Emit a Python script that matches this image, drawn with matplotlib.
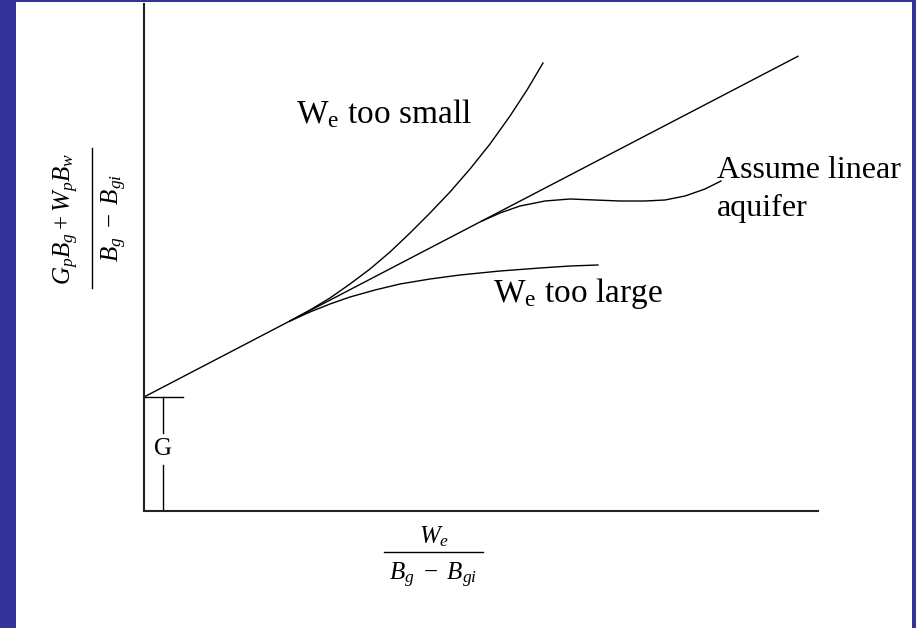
"""
Material balance plot for a gas reservoir with water influx
"""

import matplotlib.pyplot as plt
from matplotlib.patches import Rectangle
from matplotlib.lines import Line2D

plt.rcParams['mathtext.fontset'] = 'custom'
plt.rcParams['mathtext.rm'] = 'Liberation Serif'
plt.rcParams['mathtext.it'] = 'Liberation Serif:italic'
plt.rcParams['font.family'] = ['Liberation Serif', 'DejaVu Serif']

# Schematic values (arbitrary units): x = We/(Bg-Bgi), y = (GpBg+WpBw)/(Bg-Bgi)
G = 114
slope = 0.521
x_line = [0, 654]

# We too small
small_x = [146, 166, 186, 206, 226, 246, 266, 286, 306, 326, 346, 366, 383, 399]
small_y = [190, 201, 213, 227, 242, 259, 278, 298, 319, 342, 367, 395, 421, 448]

# We too large
large_x = [146, 166, 186, 206, 231, 256, 286, 316, 356, 396, 426, 454]
large_y = [190, 199, 207, 214, 221, 227, 232, 236, 240, 243, 245, 246]

# Assume linear aquifer
lin_x = [338, 356, 376, 401, 426, 451, 476, 501, 521, 541, 561, 577]
lin_y = [290, 298, 305, 310, 312, 311, 310, 310, 311, 315, 322, 330]

fig = plt.figure(figsize=(9.16, 6.28), dpi=100, facecolor='#333399')
fig.patches.append(Rectangle((16 / 916, 0), 896 / 916, 626 / 628,
                             transform=fig.transFigure, facecolor='white',
                             edgecolor='none', zorder=-10))

ax = fig.add_axes([144 / 916, 117 / 628, 674 / 916, 507 / 628])
ax.set_zorder(5)
ax.set_xlim(0, 674)
ax.set_ylim(0, 507)
ax.patch.set_alpha(0)
for side in ['top', 'right']:
    ax.spines[side].set_visible(False)
for side in ['left', 'bottom']:
    ax.spines[side].set_linewidth(1.5)
    ax.spines[side].set_color('#222222')
ax.set_xticks([])
ax.set_yticks([])

lw = 1.0
ax.plot(x_line, [G + slope * x for x in x_line], color='black', lw=lw)
ax.plot(small_x, small_y, color='black', lw=lw)
ax.plot(large_x, large_y, color='black', lw=lw)
ax.plot(lin_x, lin_y, color='black', lw=lw)

# Intercept marker
ax.plot([0, 39], [G, G], color='black', lw=lw, clip_on=False)
ax.plot([19, 19], [G, 78], color='black', lw=lw)
ax.plot([19, 19], [46, 0], color='black', lw=lw)
ax.text(19, 62, 'G', ha='center', va='center', fontsize=18)

# Curve labels
ax.text(152, 388, r'W$_\mathrm{e}$ too small', fontsize=24, va='baseline', ha='left')
ax.text(349, 209, r'W$_\mathrm{e}$ too large', fontsize=24, va='baseline', ha='left')
ax.text(573, 333, 'Assume linear', fontsize=23, va='baseline', ha='left')
ax.text(573, 295, 'aquifer', fontsize=23, va='baseline', ha='left')


def fx(px):
    return px / 916


def fy(py):
    return 1 - py / 628


# y axis label: (GpBg + WpBw) / (Bg - Bgi), rotated
fig.text(fx(66), fy(219), r'$G_p B_g + W_p B_w$', rotation=90,
         ha='center', va='center', fontsize=18)
fig.lines.append(Line2D([fx(92), fx(92)], [fy(148), fy(288)],
                        transform=fig.transFigure, color='black', lw=1.0))
fig.text(fx(114), fy(218), r'$B_g\ -\ B_{gi}$', rotation=90,
         ha='center', va='center', fontsize=18)

# x axis label: We / (Bg - Bgi)
fig.text(fx(434), fy(537), r'$W_e$', ha='center', va='center', fontsize=18)
fig.lines.append(Line2D([fx(384), fx(483)], [fy(552), fy(552)],
                        transform=fig.transFigure, color='black', lw=1.0))
fig.text(fx(433), fy(575), r'$B_g\ -\ B_{gi}$', ha='center', va='center', fontsize=18)

fig.savefig('out.png', dpi=100, facecolor=fig.get_facecolor())
